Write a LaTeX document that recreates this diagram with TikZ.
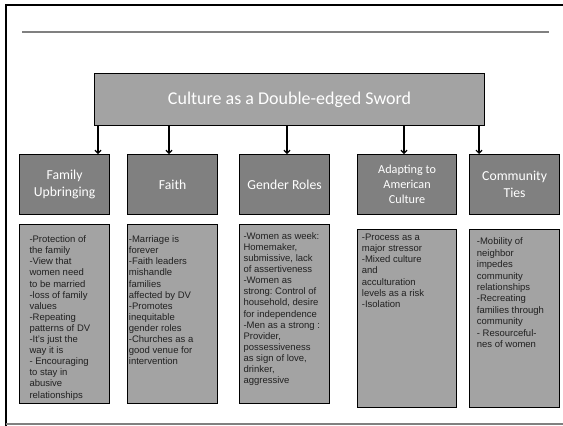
\documentclass[tikz,border=0pt]{standalone}
\usepackage{fontspec}
\setmainfont{Liberation Sans}
\newfontfamily\calib{Carlito}
\usetikzlibrary{arrows.meta}
\definecolor{boxgray}{gray}{0.64}
\definecolor{headgray}{gray}{0.5}
\definecolor{txtgray}{gray}{0.13}
\definecolor{rulegray}{gray}{0.5}
\frenchspacing
\begin{document}
\begin{tikzpicture}[x=1pt,y=-1pt,
 box/.style={draw=black,line width=1.2pt,rectangle,inner sep=0pt,anchor=north west},
 titlebox/.style={box,fill=boxgray,minimum width=390pt,minimum height=52pt,text=white,font=\calib\fontsize{18}{21}\selectfont},
 head/.style={box,fill=headgray,minimum width=90pt,minimum height=60pt,text=white,align=center,font=\calib\fontsize{13.7}{17}\selectfont},
 content/.style={box,fill=boxgray,minimum width=90pt},
 body/.style={anchor=north west,inner sep=0pt,align=left,text=txtgray,font=\fontsize{9.5}{11.1}\selectfont},
 arr/.style={line width=1.2pt,-{Straight Barb[length=3pt,width=6pt]}}]
\useasboundingbox (0,0) rectangle (563,426);
% slide frame
\draw[line width=2pt] (5.5,426) -- (5.5,4.5) -- (563,4.5);
\draw[line width=1.5pt,draw=gray] (5.5,424) -- (563,424);
\draw[line width=1.5pt,draw=rulegray] (22,32) -- (549,32);
% title
\node[titlebox] (title) at (94,73) {Culture as a Double-edged Sword};
% headers
\node[head] (h1) at (19,154) {Family\\Upbringing};
\node[head] (h2) at (127,154) {Faith};
\node[head] (h3) at (239,154) {Gender Roles};
\node[head,minimum width=99pt,font=\calib\fontsize{12.2}{15}\selectfont] (h4) at (357,154) {Adapting to\\American\\Culture};
\node[head] (h5) at (469,154) {Community\\Ties};
% arrow targets
\coordinate (t1) at ([xshift=79pt]h1.north west);
\coordinate (t2) at ([xshift=42pt]h2.north west);
\coordinate (t3) at ([xshift=48pt]h3.north west);
\coordinate (t4) at ([xshift=47pt]h4.north west);
\coordinate (t5) at ([xshift=10pt]h5.north west);
\foreach \i in {1,...,5}{\draw[arr] (title.south -| t\i) -- (t\i);}
% content boxes
\node[content,minimum height=179pt] (c1) at (19,224) {};
\node[content,minimum height=179pt] (c2) at (127,224) {};
\node[content,minimum height=179pt] (c3) at (239,224) {};
\node[content,minimum height=178pt,minimum width=99pt] (c4) at (357,229) {};
\node[content,minimum height=178pt] (c5) at (469,229) {};
% content texts
\node[body] (b1) at ([xshift=10.3pt,yshift=-11.6pt]c1.north west) {-Protection of\\the family\\-View that\\women need\\to be married\\-loss of family\\values\\-Repeating\\patterns of DV\\-It's just the\\way it is\\- Encouraging\\to stay in\\abusive\\relationships};
\node[body] (b2) at ([xshift=1.7pt,yshift=-11.6pt]c2.north west) {-Marriage is\\forever\\-Faith leaders\\mishandle\\families\\affected by DV\\-Promotes\\inequitable\\gender roles\\-Churches as a\\good venue for\\intervention};
\node[body] (b3) at ([xshift=4.3pt,yshift=-8.3pt]c3.north west) {-Women as week:\\Homemaker,\\submissive, lack\\of assertiveness\\-Women as\\strong: Control of\\household, desire\\for independence\\-Men as a strong :\\Provider,\\possessiveness\\as sign of love,\\drinker,\\aggressive};
\node[body] (b4) at ([xshift=4.7pt,yshift=-4.9pt]c4.north west) {-Process as a\\major stressor\\-Mixed culture\\and\\acculturation\\levels as a risk\\-Isolation};
\node[body,font=\fontsize{9.5}{11.4}\selectfont] (b5) at ([xshift=7.7pt,yshift=-8.9pt]c5.north west) {-Mobility of\\neighbor\\impedes\\community\\relationships\\-Recreating\\families through\\community\\- Resourceful-\\nes of women};
\end{tikzpicture}
\end{document}
